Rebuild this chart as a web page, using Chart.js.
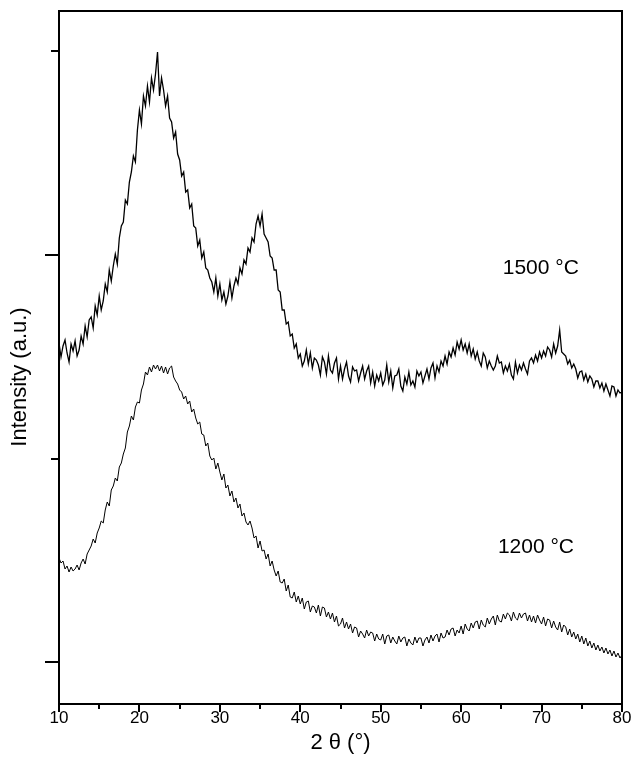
<!DOCTYPE html>
<html>
<head>
<meta charset="utf-8">
<title>XRD patterns</title>
<script src="https://cdn.jsdelivr.net/npm/chart.js@4.4.1/dist/chart.umd.min.js"></script>
<style>
  html, body { margin: 0; padding: 0; background: #fff; }
  #wrap { width: 633px; height: 774px; }
</style>
</head>
<body>
<div id="wrap"><canvas id="xrdChart" width="633" height="774"></canvas></div>
<script>
// 2 theta runs from 10 to 80 deg, one reading every 0.25 deg
const startAngle = 10;
const angleStep = 0.25;

// intensity (a.u.), 4 readings per degree
const intensity1500 = [
  319,305,316,322, 309,300,318,311, 321,306,312,326, 318,336,325,342, 345,334,356,347,
  366,352,361,378, 370,392,381,396, 408,398,424,436, 440,462,458,480, 490,506,500,532,
  552,538,566,556, 576,560,584,572, 588,610,566,584, 572,556,566,544, 540,524,530,508,
  502,486,490,470, 472,454,458,436, 434,416,422,404, 410,394,392,384, 380,370,384,366,
  378,362,370,358, 366,380,364,376, 384,378,394,388, 402,398,414,410, 424,420,438,446,
  436,448,428,424, 420,406,404,392, 392,372,370,352, 352,338,340,326, 328,314,318,304,
  308,296,301,312, 298,309,294,304, 302,297,287,305, 300,288,306,292, 289,299,304,283,
  296,283,293,300, 286,280,295,291, 292,281,289,296, 283,291,296,279, 290,276,287,281,
  289,277,282,297, 280,291,274,286, 287,293,276,271, 285,278,290,277, 281,275,291,286,
  290,279,286,293, 283,294,299,284, 296,290,301,296, 306,298,310,305, 314,307,320,313,
  322,312,318,309, 318,306,313,303, 310,301,296,309, 305,294,301,296, 292,296,306,299,
  300,289,296,291, 298,287,283,300, 289,297,292,299, 293,288,301,304, 299,307,301,310,
  304,311,306,315, 312,305,318,309, 316,332,310,308, 306,298,302,294, 298,293,284,290,
  291,282,288,280, 286,283,275,281, 281,274,279,271, 278,272,266,276, 275,266,272,269,
  270
];
const intensity1200 = [
  104,99,101,93, 96,90,95,91, 93,97,92,99, 103,98,108,112, 116,123,119,129,
  134,141,139,152, 160,156,172,176, 184,181,195,199, 208,214,230,236, 246,242,255,260,
  259,272,278,290, 287,295,290,297, 293,297,291,296, 289,295,288,294, 296,285,281,278,
  272,270,263,266, 258,261,250,253, 244,238,240,228, 227,216,219,206, 202,204,193,199,
  190,182,188,174, 177,166,171,160, 164,154,158,146, 149,140,137,141, 134,124,126,114,
  121,111,112,103, 108,96,101,92, 86,91,80,79, 83,71,77,65, 64,70,60,66,
  58,64,53,60, 61,50,56,55, 49,57,46,55, 54,45,50,43, 49,40,46,36,
  38,44,34,40, 33,38,29,35, 34,25,31,28, 24,32,26,30, 29,21,28,23,
  22,28,18,26, 27,19,25,21, 18,26,20,24, 25,16,23,19, 17,25,19,24,
  24,16,22,25, 19,27,21,26, 28,20,29,24, 25,32,27,33, 34,26,32,29,
  36,28,38,33, 31,39,34,40, 41,33,42,37, 35,44,38,43, 46,37,47,41,
  40,48,43,49, 47,41,50,44, 42,49,44,48, 49,41,47,40, 46,39,47,42,
  38,45,36,43, 42,34,41,35, 32,40,30,37, 35,27,33,25, 30,23,28,20,
  26,18,24,16, 21,14,19,12, 17,11,15,9, 14,8,12,6, 11,5,9,4,
  7
];

const majorXTicks = [10, 20, 30, 40, 50, 60, 70, 80];
const minorXTicks = [15, 25, 35, 45, 55, 65, 75];
const majorYTicks = [0, 407];
const minorYTicks = [203.5, 610.5];

// sample labels, placed in data coordinates
const curveLabels = [
  { text: '1500 °C', angle: 69.9, value: 394 },
  { text: '1200 °C', angle: 69.3, value: 115 }
];

const angles = intensity1500.map((_, i) => startAngle + i * angleStep);
const toPoints = (vals) => vals.map((v, i) => ({ x: angles[i], y: v }));

const FONT = '"Liberation Sans", Arial, sans-serif';

// frame, tick marks, y title and curve labels
const framePlugin = {
  id: 'frame',
  afterDraw(chart) {
    const { ctx, chartArea: a } = chart;
    const xs = chart.scales.x, ys = chart.scales.y;
    ctx.save();
    ctx.strokeStyle = '#000';
    ctx.lineWidth = 2;
    ctx.strokeRect(a.left, a.top, a.right - a.left, a.bottom - a.top);

    ctx.beginPath();
    majorXTicks.forEach(t => {
      const px = Math.round(xs.getPixelForValue(t));
      ctx.moveTo(px, a.bottom); ctx.lineTo(px, a.bottom + 8);
    });
    minorXTicks.forEach(t => {
      const px = Math.round(xs.getPixelForValue(t));
      ctx.moveTo(px, a.bottom); ctx.lineTo(px, a.bottom + 5);
    });
    majorYTicks.forEach(t => {
      const py = Math.round(ys.getPixelForValue(t));
      ctx.moveTo(a.left, py); ctx.lineTo(a.left - 14, py);
    });
    minorYTicks.forEach(t => {
      const py = Math.round(ys.getPixelForValue(t));
      ctx.moveTo(a.left, py); ctx.lineTo(a.left - 8, py);
    });
    ctx.stroke();

    ctx.fillStyle = '#000';
    ctx.font = '21px ' + FONT;
    ctx.textAlign = 'center';
    ctx.textBaseline = 'middle';
    curveLabels.forEach(l => {
      ctx.fillText(l.text, xs.getPixelForValue(l.angle), ys.getPixelForValue(l.value));
    });

    ctx.font = '22px ' + FONT;
    ctx.translate(20, 377);
    ctx.rotate(-Math.PI / 2);
    ctx.fillText('Intensity (a.u.)', 0, 0);
    ctx.restore();
  }
};

new Chart(document.getElementById('xrdChart'), {
  type: 'line',
  data: {
    datasets: [
      {
        label: '1500 °C',
        data: toPoints(intensity1500),
        borderColor: '#000',
        borderWidth: 1.3,
        pointRadius: 0,
        tension: 0
      },
      {
        label: '1200 °C',
        data: toPoints(intensity1200),
        borderColor: '#000',
        borderWidth: 1,
        pointRadius: 0,
        tension: 0
      }
    ]
  },
  options: {
    responsive: false,
    animation: false,
    devicePixelRatio: 1,
    layout: { padding: { left: 0, top: 11, right: 11, bottom: 0 } },
    plugins: {
      legend: { display: false },
      tooltip: { enabled: false }
    },
    scales: {
      x: {
        type: 'linear',
        min: 10,
        max: 80,
        grid: { display: false, drawTicks: false },
        border: { display: false },
        ticks: {
          stepSize: 10,
          autoSkip: false,
          maxRotation: 0,
          padding: 4,
          color: '#000',
          font: { family: FONT, size: 17 }
        },
        title: {
          display: true,
          text: '2 θ (°)',
          color: '#000',
          font: { family: FONT, size: 22 },
          padding: { top: 0, bottom: 18 }
        },
        afterFit: (s) => {
          s.height = 70;
          s.paddingLeft = 0;
          s.paddingRight = 0;
        }
      },
      y: {
        min: -42,
        max: 651,
        grid: { display: false },
        border: { display: false },
        ticks: { display: false },
        afterFit: (s) => { s.width = 59; }
      }
    }
  },
  plugins: [framePlugin]
});
</script>
</body>
</html>
